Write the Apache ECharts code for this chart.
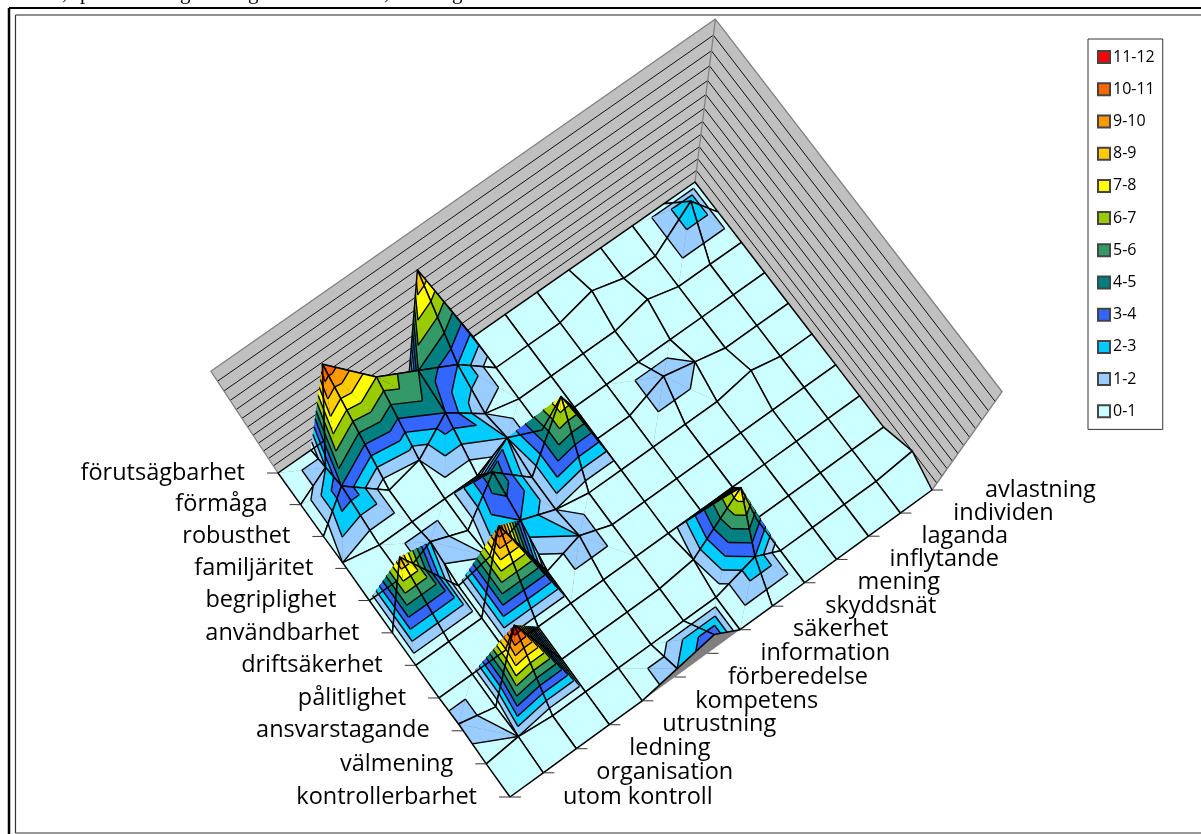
<!DOCTYPE html>
<html>
<head>
<meta charset="utf-8">
<style>html,body{margin:0;padding:0;background:#fff}#chart{width:1201px;height:834px}</style>
<script src="https://cdn.jsdelivr.net/npm/echarts@6/dist/echarts.min.js"></script>
</head>
<body>
<div id="chart"></div>
<script>
// Row labels along the front-left edge, nearest first.
const rowLabels = ['kontrollerbarhet','välmening','ansvarstagande','pålitlighet','driftsäkerhet','användbarhet','begriplighet','familjäritet','robusthet','förmåga','förutsägbarhet'];
// Column labels along the front-right edge, nearest first.
const colLabels = ['utom kontroll','organisation','ledning','utrustning','kompetens','förberedelse','information','säkerhet','skyddsnät','mening','inflytande','laganda','individen','avlastning'];

// Co-occurrence counts, one array per row label.
const kontrollerbarhet = [0,0,0,0,0,2,4,0,0,0,0,0,0,0];
const valmening        = [0,1,0,0,0,0,0,0,3,0,0,0,0,1];
const ansvarstagande   = [2,0,12,0,0,0,0,1,8,0,0,0,0,0];
const palitlighet      = [0,0,0,0,0,0,0,0,0,0,0,0,0,0];
const driftsakerhet    = [0,0,0,11,0,2,0,0,0,0,0,0,0,0];
const anvandbarhet     = [0,9,0,1,3,1,0,0,0,0,0,1,0,0];
const begriplighet     = [0,0,2,0,5,1,8,0,0,2,1,0,0,0];
const familjaritet     = [1,0,0,0,0,2,0,0,0,0,0,0,0,0];
const robusthet        = [0,4,0,1,4,1,0,0,0,0,1,0,0,0];
const formaga          = [0,2,11,7,5,3,0,0,0,1,0,0,3,0];
const forutsagbarhet   = [0,0,0,0,0,9,0,0,0,0,0,0,0,0];
const counts = [kontrollerbarhet,valmening,ansvarstagande,palitlighet,driftsakerhet,anvandbarhet,begriplighet,familjaritet,robusthet,formaga,forutsagbarhet];

// One colour per unit band, from 0-1 upwards.
const bandNames  = ['0-1','1-2','2-3','3-4','4-5','5-6','6-7','7-8','8-9','9-10','10-11','11-12'];
const bandColors = ['#CCFFFF','#99CCFF','#00CCFF','#3366FF','#008080','#339966','#99CC00','#FFFF00','#FFCC00','#FF9900','#FF6600','#FF0000'];
const zMax = bandNames.length;
const nCols = colLabels.length, nRows = rowLabels.length;

// Descenders of the line of body text that the page crop cuts off above the frame.
const clippedGlyphs = [[',',62],['p',80],['g',180],['g',248],[',',384],['g',452]];

// Camera: floor corners on the page, and the point the vertical edges converge to.
const cornerFront = [510,797], cornerRight = [932,490], cornerLeft = [278,473], cornerBack = [695,182];
const nadir = [598,958];
const lift = 0.01446;

const homography = (() => {
  const [x0,y0]=cornerFront,[x1,y1]=cornerRight,[x2,y2]=cornerBack,[x3,y3]=cornerLeft;
  const dx1=x1-x2,dx2=x3-x2,sx=x0-x1+x2-x3,dy1=y1-y2,dy2=y3-y2,sy=y0-y1+y2-y3;
  const d=dx1*dy2-dx2*dy1,g=(sx*dy2-dx2*sy)/d,h=(dx1*sy-sx*dy1)/d;
  return {a:x1-x0+g*x1,b:x3-x0+h*x3,c:x0,d:y1-y0+g*y1,e:y3-y0+h*y3,f:y0,g,h};
})();
function floorPoint(i,j){
  const u=i/(nCols-1),v=j/(nRows-1),H=homography,w=H.g*u+H.h*v+1;
  return [(H.a*u+H.b*v+H.c)/w,(H.d*u+H.e*v+H.f)/w];
}
function project(i,j,z){
  const p=floorPoint(i,j),k=1/(1-lift*z);
  return [nadir[0]+(p[0]-nadir[0])*k,nadir[1]+(p[1]-nadir[1])*k];
}

const ink='#000', wallFill='#C0C0C0', wallEdge='#808080';
const poly=(points,fill)=>({type:'polygon',shape:{points},style:{fill,stroke:null}});
const line=(points,stroke,lineWidth)=>({type:'polyline',shape:{points},style:{fill:null,stroke,lineWidth,lineJoin:'round'}});

// Keeps the part of a triangle lying between two heights.
function clipBand(verts,lo,hi){
  const cut=(vs,level,keepAbove)=>{
    const out=[];
    vs.forEach((a,n)=>{
      const b=vs[(n+1)%vs.length];
      const ain=keepAbove?a[2]>=level:a[2]<=level, bin=keepAbove?b[2]>=level:b[2]<=level;
      if(ain)out.push(a);
      if(ain!==bin){const t=(level-a[2])/(b[2]-a[2]);out.push([a[0]+t*(b[0]-a[0]),a[1]+t*(b[1]-a[1]),level]);}
    });
    return out;
  };
  return cut(cut(verts,lo,true),hi,false);
}
// Segment where a triangle crosses a height.
function contour(tri,level){
  const pts=[];
  tri.forEach((a,n)=>{
    const b=tri[(n+1)%3];
    if((a[2]<level)!==(b[2]<level)){const t=(level-a[2])/(b[2]-a[2]);pts.push([a[0]+t*(b[0]-a[0]),a[1]+t*(b[1]-a[1]),level]);}
  });
  return pts.length===2?pts:null;
}

// Farthest cells from the viewer are painted first.
const cells=[];
for(let j=0;j<nRows-1;j++)for(let i=0;i<nCols-1;i++)cells.push([i,j]);
const viewDist=c=>{const p=floorPoint(c[0]+.5,c[1]+.5);return Math.hypot(p[0]-nadir[0],p[1]-nadir[1]);};
cells.sort((a,b)=>viewDist(b)-viewDist(a));

function renderCell(params,api){
  const i=api.value(0),j=api.value(1);
  const vert=(a,b)=>{const z=counts[b][a],p=api.coord(project(a,b,z));return [p[0],p[1],z];};
  const q=[vert(i,j),vert(i+1,j),vert(i+1,j+1),vert(i,j+1)];
  const zs=q.map(v=>v[2]),lo=Math.min(...zs),hi=Math.max(...zs);
  const children=[];
  const xy=v=>[v[0],v[1]];
  const band=Math.min(Math.floor(lo),zMax-1);
  if(hi<=band+1){
    children.push(poly(q.map(xy),bandColors[band]));
  }else{
    // Split along the diagonal through the highest corner; the far triangle goes first.
    const top02=Math.max(q[0][2],q[2][2]),top13=Math.max(q[1][2],q[3][2]);
    const d02=Math.abs(q[0][2]-q[2][2]),d13=Math.abs(q[1][2]-q[3][2]);
    const use02=top02!==top13?top02>top13:d02>=d13;
    const pair=use02?[[q[0],q[1],q[2]],[q[0],q[2],q[3]]]:[[q[0],q[1],q[3]],[q[1],q[2],q[3]]];
    const dist=t=>Math.hypot((t[0][0]+t[1][0]+t[2][0])/3-nadir[0],(t[0][1]+t[1][1]+t[2][1])/3-nadir[1]);
    pair.sort((a,b)=>dist(b)-dist(a));
    pair.forEach(tri=>{
      for(let k=0;k<zMax;k++){
        const part=clipBand(tri,k,k+1);
        if(part.length>=3)children.push(poly(part.map(xy),bandColors[k]));
      }
      for(let k=1;k<zMax;k++){
        const seg=contour(tri,k);
        if(seg)children.push(line(seg.map(xy),ink,1.4));
      }
    });
  }
  children.push(line(q.concat([q[0]]).map(xy),ink,1.5));
  return {type:'group',children};
}

function renderWalls(params,api){
  const c=(i,j,z)=>api.coord(project(i,j,z));
  const cols=nCols-1,rows=nRows-1;
  const children=[
    // Floor under the surface.
    poly([c(0,0,0),c(cols,0,0),c(cols,rows,0),c(0,rows,0)],'#808080'),
    // Left wall and right wall.
    poly([c(0,rows,0),c(cols,rows,0),c(cols,rows,zMax),c(0,rows,zMax)],wallFill),
    poly([c(cols,0,0),c(cols,rows,0),c(cols,rows,zMax),c(cols,0,zMax)],wallFill)
  ];
  for(let z=1;z<zMax;z++)children.push(line([c(0,rows,z),c(cols,rows,z),c(cols,0,z)],'#111',1));
  children.push(line([c(0,rows,0),c(0,rows,zMax),c(cols,rows,zMax),c(cols,0,zMax),c(cols,0,0)],wallEdge,1.3));
  children.push(line([c(cols,rows,0),c(cols,rows,zMax)],wallEdge,1.3));
  return {type:'group',children};
}

const labelFont='23.5px "Comic Sans MS","Open Sans",sans-serif';
function renderRowLabel(params,api){
  const p=api.coord(project(0,api.value(0),0));
  return {type:'group',children:[
    line([[p[0]-11,p[1]],[p[0],p[1]]],'#333',1),
    {type:'text',style:{text:rowLabels[api.value(0)],x:p[0]-33,y:p[1],font:labelFont,textAlign:'right',textVerticalAlign:'middle',fill:'#000'}}
  ]};
}
function renderColLabel(params,api){
  const p=api.coord(project(api.value(0),0,0));
  return {type:'group',children:[
    line([[p[0],p[1]],[p[0]+11,p[1]]],'#333',1),
    {type:'text',style:{text:colLabels[api.value(0)],x:p[0]+53,y:p[1],font:labelFont,textAlign:'left',textVerticalAlign:'middle',fill:'#000'}}
  ]};
}

const legendSeries=bandNames.map((name,n)=>({name,type:'scatter',data:[],itemStyle:{color:bandColors[n],opacity:1,borderColor:'#444',borderWidth:1}}));

const chart=echarts.init(document.getElementById('chart'),null,{renderer:'canvas'});
chart.setOption({
  animation:false,
  backgroundColor:'#fff',
  grid:{left:0,right:0,top:0,bottom:0},
  xAxis:{type:'value',min:0,max:1201,show:false},
  yAxis:{type:'value',min:0,max:834,inverse:true,show:false},
  legend:{
    orient:'vertical',left:1088,top:39,
    data:bandNames.slice().reverse(),
    selectedMode:false,icon:'rect',itemWidth:12,itemHeight:12,itemGap:14,
    padding:[9,8,9,9],backgroundColor:'#fff',borderColor:'#333',borderWidth:1,borderRadius:0,
    textStyle:{fontFamily:'"Comic Sans MS","Open Sans",sans-serif',fontSize:16,color:'#000',padding:[0,0,0,-2],lineHeight:18.2}
  },
  graphic:[
    {type:'line',shape:{x1:9,y1:8,x2:1201,y2:8},style:{stroke:'#000',lineWidth:2}},
    {type:'line',shape:{x1:9,y1:8,x2:9,y2:834},style:{stroke:'#000',lineWidth:2.5}},
    {type:'line',shape:{x1:15.5,y1:15,x2:1201,y2:15},style:{stroke:'#222',lineWidth:1.2}},
    {type:'line',shape:{x1:15.5,y1:15,x2:15.5,y2:833},style:{stroke:'#333',lineWidth:1.2}},
    {type:'line',shape:{x1:15.5,y1:833,x2:1201,y2:833},style:{stroke:'#333',lineWidth:1.2}}
  ].concat(clippedGlyphs.map(g=>({type:'text',style:{text:g[0],x:g[1],y:4,font:'21px "Liberation Serif",serif',textVerticalAlign:'bottom',fill:'#000'}}))),
  series:[
    {type:'custom',name:'walls',data:[[0,0]],renderItem:renderWalls,silent:true,clip:false,z:1},
    {type:'custom',name:'surface',data:cells,renderItem:renderCell,silent:true,clip:false,z:2},
    {type:'custom',name:'rows',data:rowLabels.map((_,n)=>[n,0]),renderItem:renderRowLabel,silent:true,clip:false,z:3},
    {type:'custom',name:'cols',data:colLabels.map((_,n)=>[n,0]),renderItem:renderColLabel,silent:true,clip:false,z:3}
  ].concat(legendSeries)
});
</script>
</body>
</html>
